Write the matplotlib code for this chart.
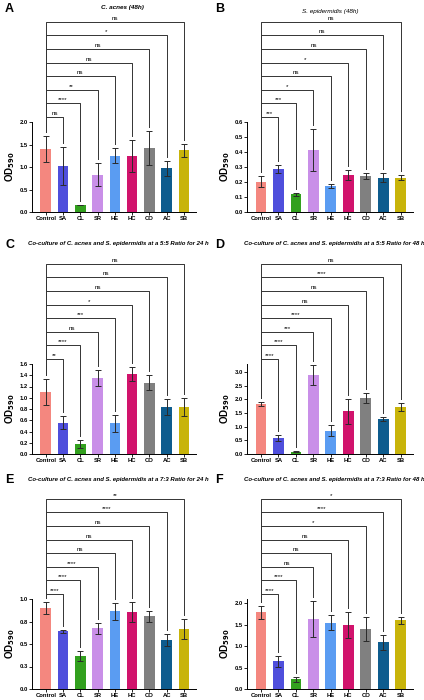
import numpy as np
import matplotlib
matplotlib.use("Agg")
import matplotlib.pyplot as plt

plt.rcParams['font.family'] = ['Liberation Sans', 'DejaVu Sans']

groups = ["Control", "SA", "CL", "SR", "HE", "HC", "CO", "AC", "SB"]
colors = ['#F4877F', '#4F4FDC', '#32A01E', '#C98FE8', '#5A9CF2',
          '#D1136C', '#808080', '#0E5C8E', '#C8B40A']

# mean and SD
a_mean = [1.41, 1.02, 0.155, 0.83, 1.25, 1.25, 1.42, 0.97, 1.37]
a_sd = [0.29, 0.43, 0.01, 0.25, 0.17, 0.35, 0.38, 0.17, 0.15]
a_sig = ["ns", "****", "**", "ns", "ns", "ns", "*", "ns"]

b_mean = [0.203, 0.287, 0.119, 0.415, 0.172, 0.247, 0.240, 0.230, 0.230]
b_sd = [0.035, 0.027, 0.009, 0.140, 0.013, 0.032, 0.017, 0.032, 0.018]
b_sig = ["***", "***", "*", "ns", "*", "ns", "ns", "ns"]

c_mean = [1.10, 0.56, 0.18, 1.35, 0.55, 1.42, 1.27, 0.83, 0.84]
c_sd = [0.23, 0.12, 0.07, 0.14, 0.15, 0.13, 0.13, 0.14, 0.16]
c_sig = ["**", "****", "ns", "***", "*", "ns", "ns", "ns"]

d_mean = [1.84, 0.57, 0.09, 2.89, 0.86, 1.57, 2.05, 1.28, 1.72]
d_sd = [0.07, 0.11, 0.03, 0.37, 0.21, 0.46, 0.17, 0.07, 0.14]
d_sig = ["****", "****", "***", "****", "ns", "ns", "****", "ns"]

e_mean = [0.90, 0.64, 0.367, 0.674, 0.863, 0.86, 0.81, 0.544, 0.667]
e_sd = [0.072, 0.02, 0.055, 0.058, 0.095, 0.11, 0.06, 0.067, 0.115]
e_sig = ["****", "****", "****", "ns", "ns", "ns", "****", "**"]

f_mean = [1.79, 0.65, 0.23, 1.63, 1.55, 1.49, 1.40, 1.09, 1.60]
f_sd = [0.15, 0.13, 0.06, 0.42, 0.18, 0.31, 0.29, 0.18, 0.08]
f_sig = ["****", "****", "ns", "ns", "ns", "*", "****", "*"]

titles = ["C. acnes (48h)", "S. epidermidis (48h)",
          "Co-culture of C. acnes and S. epidermidis at a 5:5 Ratio for 24 h",
          "Co-culture of C. acnes and S. epidermidis at a 5:5 Ratio for 48 h",
          "Co-culture of C. acnes and S. epidermidis at a 7:3 Ratio for 24 h",
          "Co-culture of C. acnes and S. epidermidis at a 7:3 Ratio for 48 h"]

yticks = [[0, 0.5, 1.0, 1.5, 2.0],
          [0, 0.1, 0.2, 0.3, 0.4, 0.5, 0.6],
          [0, 0.2, 0.4, 0.6, 0.8, 1.0, 1.2, 1.4, 1.6],
          [0, 0.5, 1.0, 1.5, 2.0, 2.5, 3.0],
          [0, 0.25, 0.5, 0.75, 1.0],
          [0, 0.5, 1.0, 1.5, 2.0]]
ylabels_e = ["0.0", "0.3", "0.5", "0.8", "1.0"]
ymaxs = [2.0, 0.6, 1.6, 3.3, 1.0, 2.1]

panels = [(a_mean, a_sd, a_sig), (b_mean, b_sd, b_sig), (c_mean, c_sd, c_sig),
          (d_mean, d_sd, d_sig), (e_mean, e_sd, e_sig), (f_mean, f_sd, f_sig)]
letters = "ABCDEF"

W, H = 424, 700
fig = plt.figure(figsize=(W / 100, H / 100), dpi=100)

col_left = [32, 247]
col_w = [164, 166]
row_bottom = [212, 454, 689]
ax_h = 90

for k, (mean, sd, sig) in enumerate(panels):
    r, c = k // 2, k % 2
    ax = fig.add_axes([col_left[c] / W, 1 - row_bottom[r] / H, col_w[c] / W, ax_h / H])
    x = np.arange(len(groups))
    ax.bar(x, mean, width=0.62, color=colors, zorder=2)
    ax.errorbar(x, mean, yerr=sd, fmt='none', ecolor='#2a2a2a', elinewidth=0.7,
                capsize=2.2, capthick=0.7, zorder=3)
    ymax = ymaxs[k]
    ax.set_ylim(0, ymax)
    ax.set_xlim(-0.8, 8.7)
    ax.set_yticks(yticks[k])
    if k == 4:
        ax.set_yticklabels(ylabels_e)
    else:
        ax.set_yticklabels([f"{t:.1f}" for t in yticks[k]])
    ax.set_xticks(x)
    ax.set_xticklabels(groups)
    for lab in ax.get_xticklabels() + ax.get_yticklabels():
        lab.set_fontweight('bold')
    ax.tick_params(labelsize=4.2, width=0.6, length=2, pad=1)
    ax.spines[['top', 'right']].set_visible(False)
    ax.spines[['left', 'bottom']].set_linewidth(0.7)
    ax.set_ylabel(r"OD$_{\mathbf{590}}$", fontsize=7, fontweight='bold', labelpad=2)

    # significance brackets, drawn above the axes
    px = ymax / ax_h
    ctrl_top = mean[0] + sd[0] + 4 * px
    for i, s in enumerate(sig):
        j = i + 1
        yl = ymax + (5 + 13.6 * i) * px
        yt = mean[j] + sd[j] + 4 * px
        ax.plot([0, 0, j, j], [ctrl_top, yl, yl, yt], color='#333333',
                lw=0.7, clip_on=False, zorder=1)
        ax.text(j / 2, yl + 1.0 * px, s, ha='center', va='bottom',
                fontsize=4.5, clip_on=False)

    top_px = row_bottom[r] - ax_h
    cx = (col_left[c] + col_w[c] / 2) / W
    if k == 0:
        fig.text(cx + 0.02, 1 - 8 / H, titles[k], ha='center', va='center',
                 fontsize=4.6, fontweight='bold', style='italic')
    elif k == 1:
        fig.text(cx, 1 - 11 / H, titles[k], ha='center', va='center',
                 fontsize=4.6, style='italic')
    else:
        fig.text(cx + 0.01, 1 - (top_px - 120) / H, titles[k], ha='center',
                 va='center', fontsize=4.3, fontweight='bold', style='italic')
    lx = [5, 215][c]
    ly = [9, 245, 480][r]
    fig.text(lx / W, 1 - ly / H, letters[k], ha='left', va='center',
             fontsize=9, fontweight='bold')

fig.savefig("out.png", dpi=100)
